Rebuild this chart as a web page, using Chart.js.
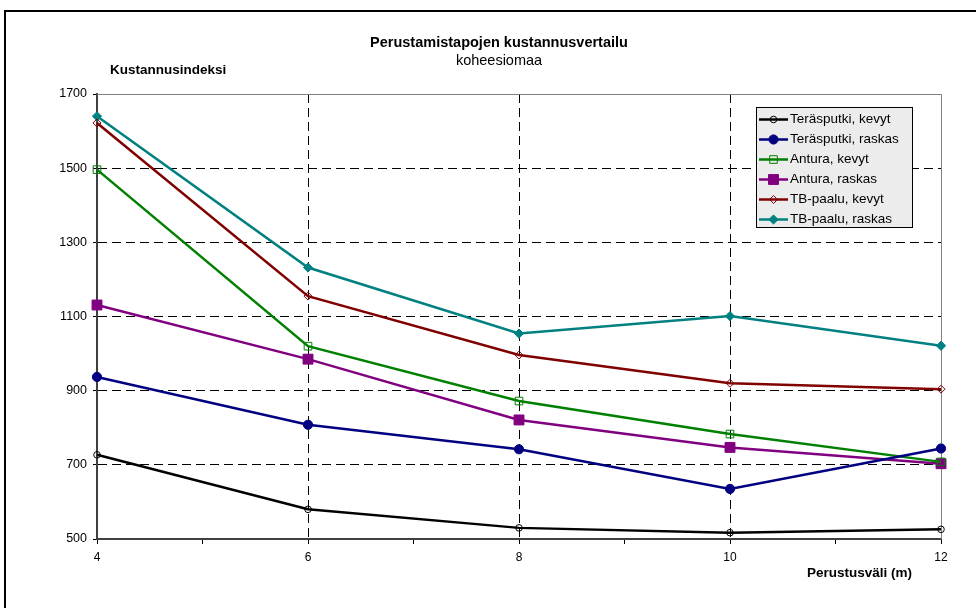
<!DOCTYPE html>
<html>
<head>
<meta charset="utf-8">
<title>Perustamistapojen kustannusvertailu</title>
<script src="https://cdn.jsdelivr.net/npm/chart.js@4.4.1/dist/chart.umd.min.js"></script>
<style>
  html, body { margin: 0; padding: 0; background: #fff; }
  #wrap { position: relative; width: 976px; height: 608px; }
</style>
</head>
<body>
<div id="wrap"><canvas id="costChart" width="976" height="608"></canvas></div>
<script>
// Perustusväli (m)
const spacing = [4, 6, 8, 10, 12];

// Kustannusindeksi per foundation type
const terasputkiKevyt = [727, 580, 530, 517, 526];
const terasputkiRaskas = [937, 808, 742, 635, 744];
const anturaKevyt = [1496, 1020, 872, 783, 708];
const anturaRaskas = [1131, 985, 821, 747, 703];
const tbPaaluKevyt = [1622, 1155, 996, 920, 904];
const tbPaaluRaskas = [1640, 1232, 1054, 1101, 1021];

const seriesNames = ['Teräsputki, kevyt', 'Teräsputki, raskas', 'Antura, kevyt',
                     'Antura, raskas', 'TB-paalu, kevyt', 'TB-paalu, raskas'];

const yTicks = [500, 700, 900, 1100, 1300, 1500, 1700];
const xTicks = [4, 6, 8, 10, 12];

const FONT = '"Liberation Sans", Arial, sans-serif';
Chart.defaults.font.family = FONT;
Chart.defaults.color = '#000';

function toPoints(values) {
    return spacing.map((x, i) => ({ x: x, y: values[i] }));
}

function series(label, values, color, style, radius, filled) {
    return {
        label: label,
        data: toPoints(values),
        borderColor: color,
        backgroundColor: color,
        borderWidth: 2.5,
        pointStyle: style,
        pointRadius: radius,
        pointBorderWidth: 1,
        pointBorderColor: color,
        pointBackgroundColor: filled ? color : 'rgba(0,0,0,0)',
        tension: 0,
        clip: 10
    };
}

const datasets = [
    series(seriesNames[0], terasputkiKevyt, '#000000', 'circle', 3.3, false),
    series(seriesNames[1], terasputkiRaskas, '#000080', 'circle', 4.6, true),
    series(seriesNames[2], anturaKevyt, '#008000', 'rect', 5.4, false),
    series(seriesNames[3], anturaRaskas, '#800080', 'rect', 7, true),
    series(seriesNames[4], tbPaaluKevyt, '#800000', 'rectRot', 4, false),
    series(seriesNames[5], tbPaaluRaskas, '#008080', 'rectRot', 4.6, true)
];

// small marker painter used by the boxed legend
function marker(ctx, style, x, y, r, stroke, fill) {
    ctx.beginPath();
    if (style === 'circle') {
        ctx.arc(x, y, r, 0, Math.PI * 2);
    } else if (style === 'rect') {
        const s = r * Math.SQRT1_2;
        ctx.rect(x - s, y - s, 2 * s, 2 * s);
    } else {
        ctx.moveTo(x - r, y); ctx.lineTo(x, y - r);
        ctx.lineTo(x + r, y); ctx.lineTo(x, y + r);
        ctx.closePath();
    }
    ctx.fillStyle = fill;
    ctx.fill();
    ctx.lineWidth = 1;
    ctx.strokeStyle = stroke;
    ctx.stroke();
}

const framePlugin = {
    id: 'frame',
    beforeDraw(chart) {
        const ctx = chart.ctx;
        ctx.save();
        ctx.fillStyle = '#fff';
        ctx.fillRect(0, 0, chart.width, chart.height);
        ctx.strokeStyle = '#000';
        ctx.lineWidth = 2;
        ctx.strokeRect(5, 11, 1100, 1100);
        ctx.restore();
    },
    beforeDatasetsDraw(chart) {
        const a = chart.chartArea, ctx = chart.ctx;
        ctx.save();
        ctx.strokeStyle = '#808080';
        ctx.lineWidth = 1;
        ctx.beginPath();
        ctx.moveTo(a.left, a.top + 0.5); ctx.lineTo(a.right + 0.5, a.top + 0.5);
        ctx.lineTo(a.right + 0.5, a.bottom);
        ctx.stroke();
        ctx.restore();
    }
};

const textPlugin = {
    id: 'texts',
    afterDraw(chart) {
        const ctx = chart.ctx;
        ctx.save();
        ctx.fillStyle = '#000';
        ctx.textBaseline = 'middle';
        ctx.textAlign = 'center';
        ctx.font = 'bold 14.5px ' + FONT;
        ctx.fillText('Perustamistapojen kustannusvertailu', 499, 43);
        ctx.font = '14.5px ' + FONT;
        ctx.fillText('koheesiomaa', 499, 61);
        ctx.textAlign = 'left';
        ctx.font = 'bold 13.5px ' + FONT;
        ctx.fillText('Kustannusindeksi', 110, 70);
        ctx.fillText('Perustusväli (m)', 807, 573);
        ctx.restore();
    }
};

const legendPlugin = {
    id: 'boxLegend',
    afterDraw(chart) {
        const ctx = chart.ctx;
        const left = 756, top = 107, w = 156, h = 120;
        ctx.save();
        ctx.fillStyle = '#ececec';
        ctx.fillRect(left, top, w, h);
        ctx.strokeStyle = '#000';
        ctx.lineWidth = 1;
        ctx.strokeRect(left + 0.5, top + 0.5, w, h);
        ctx.font = '13.5px ' + FONT;
        ctx.textBaseline = 'middle';
        chart.data.datasets.forEach((ds, i) => {
            const y = top + 12.5 + i * 20;
            ctx.strokeStyle = ds.borderColor;
            ctx.lineWidth = 2.5;
            ctx.beginPath();
            ctx.moveTo(left + 3, y); ctx.lineTo(left + 32, y);
            ctx.stroke();
            marker(ctx, ds.pointStyle, left + 17.5, y, ds.pointRadius, ds.pointBorderColor, ds.pointBackgroundColor);
            ctx.fillStyle = '#000';
            ctx.fillText(ds.label, left + 34, y);
        });
        ctx.restore();
    }
};

new Chart(document.getElementById('costChart'), {
    type: 'line',
    data: { datasets: datasets },
    options: {
        responsive: false,
        animation: false,
        events: [],
        layout: { padding: { top: 94, right: 35, left: 0, bottom: 0 } },
        plugins: {
            legend: { display: false },
            title: { display: false },
            tooltip: { enabled: false }
        },
        scales: {
            x: {
                type: 'linear',
                min: xTicks[0],
                max: xTicks[xTicks.length - 1],
                afterFit(scale) { scale.height = 69; },
                ticks: {
                    stepSize: 1,
                    autoSkip: false,
                    maxRotation: 0,
                    padding: 6,
                    font: { size: 12 },
                    color: '#000',
                    callback: (v) => xTicks.includes(v) ? String(v) : ''
                },
                grid: {
                    tickLength: 5,
                    tickColor: '#000',
                    lineWidth: 1,
                    color: (c) => (c.tick && xTicks.includes(c.tick.value) &&
                                   c.tick.value !== xTicks[0] &&
                                   c.tick.value !== xTicks[xTicks.length - 1]) ? '#000' : 'rgba(0,0,0,0)'
                },
                border: { display: true, color: '#404040', width: 2, dash: [9, 5] }
            },
            y: {
                min: yTicks[0],
                max: yTicks[yTicks.length - 1],
                afterFit(scale) { scale.width = 97; },
                afterBuildTicks(scale) { scale.ticks = yTicks.map(v => ({ value: v })); },
                ticks: {
                    padding: 6,
                    font: { size: 12.5 },
                    color: '#000',
                    callback: (v) => String(v)
                },
                grid: {
                    tickLength: 4,
                    tickColor: '#000',
                    lineWidth: 1,
                    color: (c) => (c.tick && c.tick.value !== yTicks[0] &&
                                   c.tick.value !== yTicks[yTicks.length - 1]) ? '#000' : 'rgba(0,0,0,0)'
                },
                border: { display: true, color: '#404040', width: 2, dash: [9, 5] }
            }
        }
    },
    plugins: [framePlugin, textPlugin, legendPlugin]
});
</script>
</body>
</html>
